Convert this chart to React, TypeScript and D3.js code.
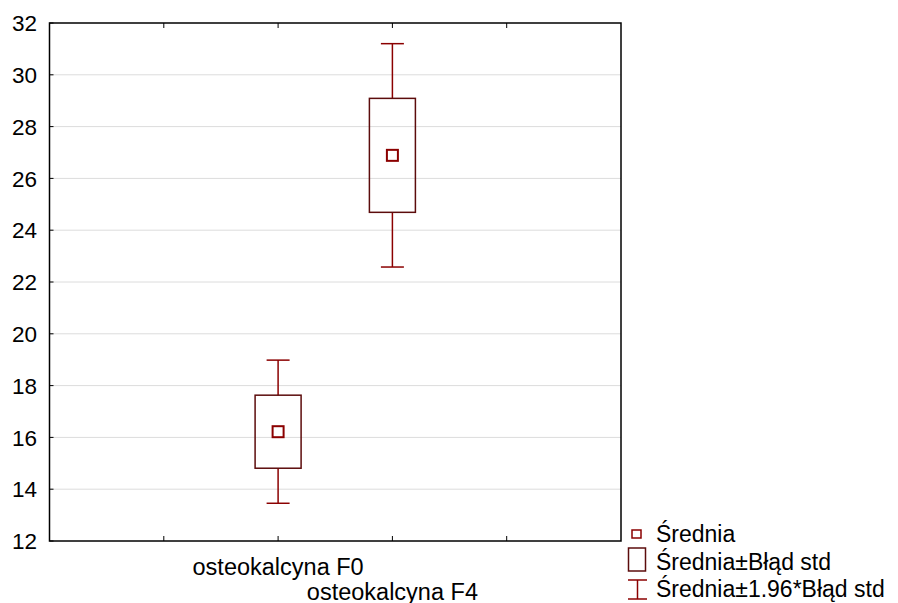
import React from "react";
import * as d3 from "d3";

// Categories and their summary statistics
const categories = ["osteokalcyna F0", "osteokalcyna F4"];
const means = [16.22, 26.89];
const stdErrors = [1.41, 2.2];
const categoryPositions = [2, 3];
const xTickPositions = [1, 2, 3, 4];
const yTicks = [12, 14, 16, 18, 20, 22, 24, 26, 28, 30, 32];
const legendLabels = ["Średnia", "Średnia±Błąd std", "Średnia±1.96*Błąd std"];

const W = 898;
const H = 603;
const margin = { left: 49.5, right: 277, top: 23, bottom: 62 };
const FONT = "'Liberation Sans', Arial, sans-serif";
const WHISKER = "#8b0000";
const BOX = "#5c0c0c";
const MEAN = "#8b0000";
const GRID = "#dcdcdc";

export default function App() {
  const x = d3
    .scaleLinear()
    .domain([0, 5])
    .range([margin.left, W - margin.right]);
  const y = d3
    .scaleLinear()
    .domain([12, 32])
    .range([H - margin.bottom, margin.top]);

  const x0 = x.range()[0];
  const x1 = x.range()[1];
  const y0 = y.range()[0];
  const y1 = y.range()[1];

  const boxW = 46;
  const capW = 23;
  const meanS = 11;

  return (
    <svg
      width={W}
      height={H}
      style={{ position: "absolute", left: 0, top: 0, display: "block", background: "#fff" }}
      fontFamily={FONT}
    >
      {/* horizontal grid */}
      {yTicks
        .filter((t) => t > 12 && t < 32)
        .map((t) => (
          <line key={"g" + t} x1={x0} x2={x1} y1={y(t)} y2={y(t)} stroke={GRID} strokeWidth={1} />
        ))}

      {/* y tick labels and inward ticks */}
      {yTicks.map((t) => (
        <g key={"y" + t}>
          <line x1={x0} x2={x0 + 4} y1={y(t)} y2={y(t)} stroke="#000" strokeWidth={1} />
          <text x={37} y={y(t)} dy="0.36em" textAnchor="end" fontSize={22.5} fill="#000">
            {t}
          </text>
        </g>
      ))}

      {/* category ticks on top and bottom edges */}
      {xTickPositions.map((p) => (
        <g key={"x" + p}>
          <line x1={x(p)} x2={x(p)} y1={y0} y2={y0 - 5} stroke="#000" strokeWidth={1} />
          <line x1={x(p)} x2={x(p)} y1={y1} y2={y1 + 5} stroke="#000" strokeWidth={1} />
        </g>
      ))}

      {/* frame */}
      <rect x={x0} y={y1} width={x1 - x0} height={y0 - y1} fill="none" stroke="#000" strokeWidth={1.5} />

      {/* whiskers, boxes and means */}
      {categories.map((c, i) => {
        const cx = x(categoryPositions[i]);
        const m = means[i];
        const se = stdErrors[i];
        const hi = m + 1.96 * se;
        const lo = m - 1.96 * se;
        return (
          <g key={c}>
            <line x1={cx} x2={cx} y1={y(hi)} y2={y(m + se)} stroke={WHISKER} strokeWidth={1.5} />
            <line x1={cx} x2={cx} y1={y(m - se)} y2={y(lo)} stroke={WHISKER} strokeWidth={1.5} />
            <line x1={cx - capW / 2} x2={cx + capW / 2} y1={y(hi)} y2={y(hi)} stroke={WHISKER} strokeWidth={1.5} />
            <line x1={cx - capW / 2} x2={cx + capW / 2} y1={y(lo)} y2={y(lo)} stroke={WHISKER} strokeWidth={1.5} />
            <rect
              x={cx - boxW / 2}
              y={y(m + se)}
              width={boxW}
              height={y(m - se) - y(m + se)}
              fill="none"
              stroke={BOX}
              strokeWidth={1.5}
            />
            <rect
              x={cx - meanS / 2}
              y={y(m) - meanS / 2}
              width={meanS}
              height={meanS}
              fill="none"
              stroke={MEAN}
              strokeWidth={2}
            />
          </g>
        );
      })}

      {/* category labels, staggered */}
      {categories.map((c, i) => (
        <text
          key={"l" + c}
          x={x(categoryPositions[i])}
          y={575 + i * 25}
          textAnchor="middle"
          fontSize={23.5}
          fill="#000"
        >
          {c}
        </text>
      ))}

      {/* legend */}
      <g>
        <rect x={632} y={530} width={9} height={8} fill="none" stroke={MEAN} strokeWidth={1.5} />
        <rect x={628.5} y={548} width={17} height={23} fill="none" stroke={BOX} strokeWidth={1.5} />
        <line x1={628} x2={647} y1={580} y2={580} stroke={WHISKER} strokeWidth={1.5} />
        <line x1={628} x2={647} y1={599} y2={599} stroke={WHISKER} strokeWidth={1.5} />
        <line x1={637.5} x2={637.5} y1={580} y2={599} stroke={WHISKER} strokeWidth={1.5} />
        {legendLabels.map((l, i) => (
          <text key={l} x={656} y={542 + i * 27.5} fontSize={23} fill="#000">
            {l}
          </text>
        ))}
      </g>
    </svg>
  );
}
